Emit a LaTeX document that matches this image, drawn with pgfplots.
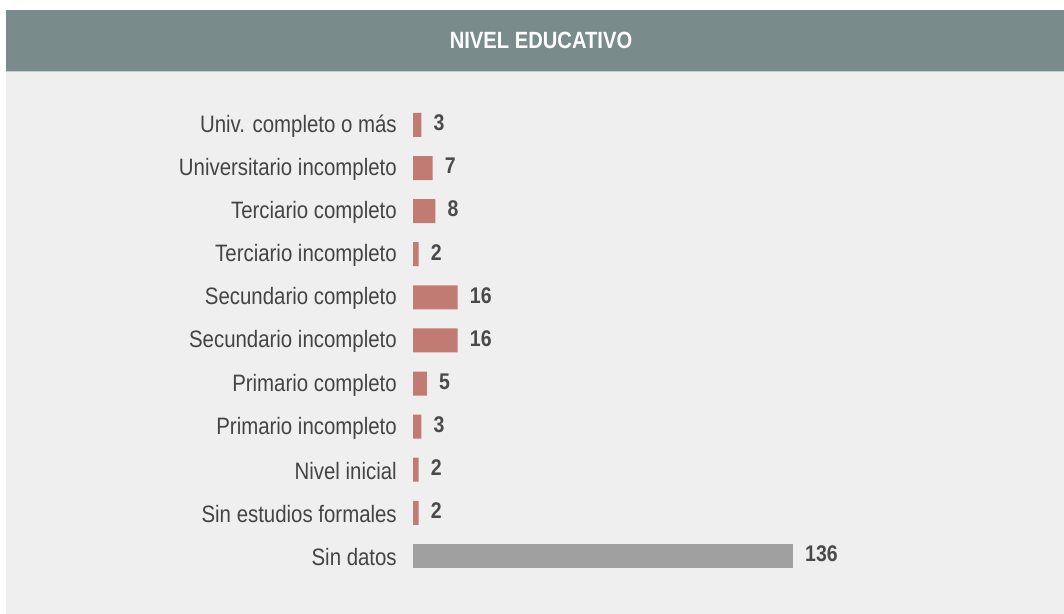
\documentclass[border=0pt]{standalone}
\usepackage{pgfplots}
\pgfplotsset{compat=1.18}
\usepackage{fontspec}
\setmainfont{Liberation Sans}[FakeStretch=0.86]
\definecolor{bgc}{HTML}{EFEFEF}
\definecolor{hdr}{HTML}{7A8B8B}
\definecolor{hdrline}{HTML}{C5CDCD}
\definecolor{barc}{HTML}{C27B72}
\definecolor{grayc}{HTML}{A0A0A0}
\definecolor{labc}{HTML}{444444}
\definecolor{valc}{HTML}{4A4A4A}
\begin{document}
\begin{tikzpicture}[x=0.75pt,y=0.75pt]
\fill[white] (0,0) rectangle (1064,614);
\fill[bgc] (6,0) rectangle (1064,542);
\fill[hdr] (6,543) rectangle (1064,604);
\fill[hdrline] (6,541.5) rectangle (1064,543);
\node[white,font=\fontsize{17.6pt}{20pt}\selectfont\bfseries] at (541,574) {NIVEL EDUCATIVO};
\begin{axis}[
  at={(309.75pt,27.375pt)}, anchor=south west,
  scale only axis, width=314.3pt, height=355.6pt,
  xmin=0, xmax=150, ymin=-0.5, ymax=10.5,
  clip=false,
  xbar, bar width=18pt,
  axis line style={draw=none}, major tick length=0pt,
  xtick=\empty,
  ytick={0,...,10},
  yticklabels={Sin datos,Sin estudios formales,Nivel inicial,Primario incompleto,Primario completo,Secundario incompleto,Secundario completo,Terciario incompleto,Terciario completo,Universitario incompleto,Univ. completo o más},
  yticklabel style={anchor=east, inner sep=0pt, xshift=-12pt, yshift=-1pt, text=labc, font=\fontsize{17.8pt}{20pt}\selectfont},
  nodes near coords,
  /pgf/number format/assume math mode=true,
  every node near coord/.append style={anchor=west, inner sep=0pt, xshift=9pt, yshift=1.5pt, text=valc, font=\fontsize{17pt}{20pt}\selectfont\bfseries},
]
\addplot[fill=barc, draw=none, bar shift=0pt] coordinates {
 (2,1) (2,2) (3,3) (5,4) (16,5) (16,6) (2,7) (8,8) (7,9) (3,10)};
\addplot[fill=grayc, draw=none, bar shift=0pt] coordinates {(136,0)};
\end{axis}
\end{tikzpicture}
\end{document}
